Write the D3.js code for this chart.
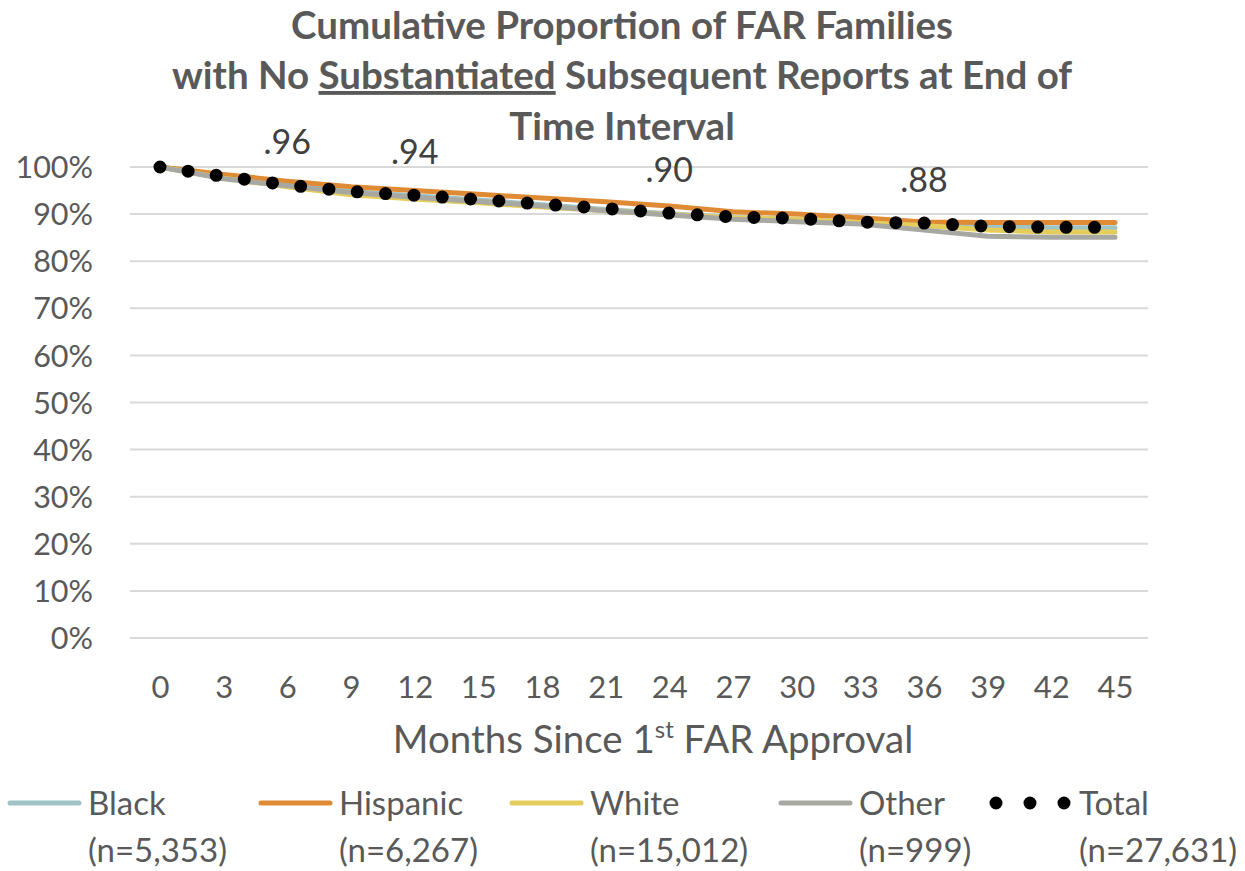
<!DOCTYPE html>
<html>
<head>
<meta charset="utf-8">
<script src="https://cdn.jsdelivr.net/npm/d3@7"></script>
<style>
  html, body { margin: 0; padding: 0; background: #fff; }
  svg { display: block; }
  text { font-family: "Lato", "Open Sans", sans-serif; }
</style>
</head>
<body>
<svg id="chart" width="1245" height="871"></svg>
<script>
// ---- data ----
const months = [0, 3, 6, 9, 12, 15, 18, 21, 24, 27, 30, 33, 36, 39, 42, 45];
const xTickLabels = [0, 3, 6, 9, 12, 15, 18, 21, 24, 27, 30, 33, 36, 39, 42, 45];
const yTickValues = [0, 0.1, 0.2, 0.3, 0.4, 0.5, 0.6, 0.7, 0.8, 0.9, 1.0];

const blackValues    = [1.00, 0.979, 0.962, 0.948, 0.939, 0.930, 0.920, 0.910, 0.901, 0.893, 0.889, 0.882, 0.878, 0.873, 0.871, 0.871];
const hispanicValues = [1.00, 0.984, 0.970, 0.958, 0.950, 0.942, 0.934, 0.926, 0.917, 0.905, 0.900, 0.892, 0.883, 0.882, 0.882, 0.882];
const whiteValues    = [1.00, 0.976, 0.958, 0.941, 0.932, 0.924, 0.915, 0.907, 0.899, 0.892, 0.889, 0.882, 0.876, 0.866, 0.862, 0.862];
const otherValues    = [1.00, 0.975, 0.960, 0.946, 0.936, 0.927, 0.917, 0.907, 0.898, 0.889, 0.884, 0.879, 0.866, 0.853, 0.851, 0.851];
const totalValues    = [1.00, 0.980, 0.962, 0.948, 0.940, 0.931, 0.921, 0.912, 0.902, 0.894, 0.891, 0.883, 0.881, 0.874, 0.872, 0.872];

const seriesNames  = ["Black", "Hispanic", "White", "Other", "Total"];
const seriesCounts = ["(n=5,353)", "(n=6,267)", "(n=15,012)", "(n=999)", "(n=27,631)"];
const seriesColors = ["#a0c3c4", "#df8a34", "#e5cd5b", "#a8a8a3", "#000000"];
const labelMonths  = [6, 12, 24, 36];

// ---- layout ----
const svg = d3.select("#chart");
const textColor = "#595959";
const x = d3.scaleLinear().domain([0, 45]).range([160, 1115]);
const y = d3.scaleLinear().domain([0, 1]).range([638, 167]);

// title
const title = svg.append("text")
  .attr("x", 622).attr("text-anchor", "middle")
  .attr("fill", textColor).attr("font-weight", "bold").attr("font-size", 38.5);
title.append("tspan").attr("x", 622).attr("y", 39).text("Cumulative Proportion of FAR Families");
const l2 = title.append("tspan").attr("x", 622).attr("y", 89);
l2.append("tspan").text("with No ");
l2.append("tspan").attr("text-decoration", "underline").text("Substantiated");
l2.append("tspan").text(" Subsequent Reports at End of");
title.append("tspan").attr("x", 622).attr("y", 140).text("Time Interval");

// gridlines
svg.append("g").selectAll("line").data(yTickValues).join("line")
  .attr("x1", 130).attr("x2", 1148)
  .attr("y1", d => y(d)).attr("y2", d => y(d))
  .attr("stroke", "#d9d9d9").attr("stroke-width", 2);

// y axis
const yAxis = d3.axisLeft(y).tickValues(yTickValues).tickFormat(d3.format(".0%")).tickSize(0).tickPadding(0);
svg.append("g").attr("transform", "translate(93,0)").call(yAxis)
  .call(g => g.select(".domain").remove())
  .call(g => g.selectAll("text").attr("fill", textColor).attr("font-size", 30.5)
    .attr("font-family", "Lato, 'Open Sans', sans-serif").attr("dy", "0.35em"));

// x axis
const xAxis = d3.axisBottom(x).tickValues(xTickLabels).tickFormat(d3.format("d")).tickSize(0).tickPadding(0);
svg.append("g").attr("transform", "translate(0,676)").call(xAxis)
  .call(g => g.select(".domain").remove())
  .call(g => g.selectAll("text").attr("fill", textColor).attr("font-size", 31)
    .attr("font-family", "Lato, 'Open Sans', sans-serif").attr("dy", "0.71em"));

// x axis title
const xt = svg.append("text").attr("x", 653).attr("y", 753).attr("text-anchor", "middle")
  .attr("fill", textColor).attr("font-size", 38.5);
xt.append("tspan").text("Months Since 1");
xt.append("tspan").attr("font-size", 24).attr("dy", -15).text("st");
xt.append("tspan").attr("dy", 15).text(" FAR Approval");

// series
const valueSets = [blackValues, hispanicValues, whiteValues, otherValues, totalValues];
const line = d3.line().x((d, i) => x(months[i])).y(d => y(d));

valueSets.slice(0, 4).forEach((vals, k) => {
  svg.append("path").datum(vals)
    .attr("d", line)
    .attr("fill", "none")
    .attr("stroke", seriesColors[k])
    .attr("stroke-width", 5)
    .attr("stroke-linecap", "round")
    .attr("stroke-linejoin", "round");
});
svg.append("path").datum(totalValues)
  .attr("d", line)
  .attr("fill", "none")
  .attr("stroke", "#000")
  .attr("stroke-width", 13)
  .attr("stroke-linecap", "round")
  .attr("stroke-dasharray", "0 28.4");

// data labels
svg.append("g").selectAll("text").data(labelMonths).join("text")
  .attr("x", m => x(m))
  .attr("y", m => y(totalValues[months.indexOf(m)]) - 31)
  .attr("text-anchor", "middle")
  .attr("fill", "#404040").attr("font-size", 34)
  .text(m => d3.format(".2f")(totalValues[months.indexOf(m)]).replace(/^0/, ""));

// legend
const legendX = [10, 261, 512, 781, 996];
const legend = svg.append("g");
seriesNames.forEach((name, k) => {
  const lx = legendX[k];
  if (k < 4) {
    legend.append("line").attr("x1", lx).attr("x2", lx + 69).attr("y1", 803).attr("y2", 803)
      .attr("stroke", seriesColors[k]).attr("stroke-width", 5).attr("stroke-linecap", "round");
  } else {
    legend.append("line").attr("x1", lx).attr("x2", lx + 69).attr("y1", 803).attr("y2", 803)
      .attr("stroke", "#000").attr("stroke-width", 13).attr("stroke-linecap", "round")
      .attr("stroke-dasharray", "0 34");
  }
  const tx = lx + (k < 4 ? 78 : 83);
  legend.append("text").attr("x", tx).attr("y", 815).attr("fill", textColor).attr("font-size", 33).text(name);
  legend.append("text").attr("x", tx).attr("y", 862).attr("fill", textColor).attr("font-size", 33).text(seriesCounts[k]);
});
</script>
</body>
</html>
